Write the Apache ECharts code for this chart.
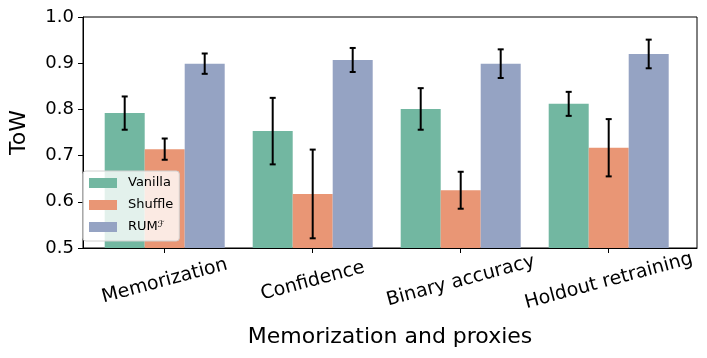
<!DOCTYPE html>
<html>
<head>
<meta charset="utf-8">
<script src="https://cdn.jsdelivr.net/npm/echarts@6/dist/echarts.min.js"></script>
<style>html,body{margin:0;padding:0;background:#fff;}#c{width:707px;height:358px;}</style>
</head>
<body>
<div id="c"></div>
<script>
const categories = ['Memorization', 'Confidence', 'Binary accuracy', 'Holdout retraining'];
const seriesNames = ['Vanilla', 'Shuffle', 'RUM'];
const vanilla = [0.792, 0.753, 0.801, 0.812];
const vanillaErr = [0.036, 0.072, 0.045, 0.026];
const shuffle = [0.714, 0.617, 0.625, 0.717];
const shuffleErr = [0.023, 0.096, 0.040, 0.062];
const rum = [0.899, 0.907, 0.899, 0.920];
const rumErr = [0.022, 0.026, 0.031, 0.031];
const yTicks = [0.5, 0.6, 0.7, 0.8, 0.9, 1.0];

const colors = ['#72b7a1', '#e99675', '#95a3c3'];
const FONT = 'DejaVu Sans';
const BAR_W = 40;

const values = [vanilla, shuffle, rum];
const errs = [vanillaErr, shuffleErr, rumErr];

const chart = echarts.init(document.getElementById('c'), null, {renderer: 'canvas'});

const series = [];
values.forEach((vals, s) => {
  series.push({
    name: seriesNames[s],
    type: 'bar',
    xAxisIndex: 0, yAxisIndex: 0,
    barWidth: BAR_W,
    barGap: '0%',
    itemStyle: {color: colors[s]},
    data: vals,
    z: 2
  });
});
values.forEach((vals, s) => {
  const offset = (s - 1) * BAR_W;
  series.push({
    type: 'custom',
    xAxisIndex: 0, yAxisIndex: 0,
    z: 5,
    silent: true,
    data: vals.map((v, i) => [i, v - errs[s][i], v + errs[s][i]]),
    encode: {x: 0, y: [1, 2]},
    renderItem: function (params, api) {
      const lo = api.coord([api.value(0), api.value(1)]);
      const hi = api.coord([api.value(0), api.value(2)]);
      const x = lo[0] + offset;
      const cap = 3;
      const style = {stroke: '#000', lineWidth: 2};
      return {
        type: 'group',
        children: [
          {type: 'line', shape: {x1: x, y1: lo[1], x2: x, y2: hi[1]}, style: style},
          {type: 'line', shape: {x1: x - cap, y1: lo[1], x2: x + cap, y2: lo[1]}, style: style},
          {type: 'line', shape: {x1: x - cap, y1: hi[1], x2: x + cap, y2: hi[1]}, style: style}
        ]
      };
    }
  });
});

chart.setOption({
  animation: false,
  textStyle: {fontFamily: FONT},
  grid: [
    {left: 90.7, right: 24.3, top: 17, bottom: 110, show: false},
    {left: 73, right: 10, top: 17, bottom: 110, show: true, borderColor: '#000', borderWidth: 1, backgroundColor: 'transparent', z: 0}
  ],
  xAxis: [
    {
      type: 'category', gridIndex: 0, data: categories,
      axisLine: {show: false},
      axisTick: {show: true, alignWithLabel: true, length: 5, lineStyle: {color: '#000', width: 1}},
      axisLabel: {
        rotate: 15, align: 'center', verticalAlign: 'middle', margin: 33,
        fontSize: 19, color: '#000', fontFamily: FONT, interval: 0
      },
      splitLine: {show: false}
    },
    {
      type: 'value', gridIndex: 1, min: 0, max: 1, z: 10,
      axisLine: {show: true, onZero: false, lineStyle: {color: '#000', width: 1}},
      axisTick: {show: false}, axisLabel: {show: false}, splitLine: {show: false},
      name: 'Memorization and proxies', nameLocation: 'middle', nameGap: 89,
      nameTextStyle: {fontSize: 22, color: '#000', fontFamily: FONT, verticalAlign: 'middle'}
    }
  ],
  yAxis: [
    {type: 'value', gridIndex: 0, min: 0.5, max: 1.0, show: false},
    {
      type: 'value', gridIndex: 1, min: yTicks[0], max: yTicks[yTicks.length - 1], interval: 0.1, z: 10,
      axisLine: {show: true, lineStyle: {color: '#000', width: 1}},
      axisTick: {show: true, length: 5, lineStyle: {color: '#000', width: 1}},
      axisLabel: {fontSize: 18, color: '#000', fontFamily: FONT, margin: 9, formatter: v => v.toFixed(1)},
      splitLine: {show: false},
      name: 'ToW', nameLocation: 'middle', nameGap: 53,
      nameTextStyle: {fontSize: 22, color: '#000', fontFamily: FONT}
    }
  ],
  legend: {
    orient: 'vertical',
    left: 83, top: 171,
    data: seriesNames,
    icon: 'rect',
    itemWidth: 28, itemHeight: 10,
    itemGap: 8,
    padding: [5, 6, 6, 6],
    backgroundColor: 'rgba(255,255,255,0.8)',
    borderColor: '#d0d0d0', borderWidth: 1, borderRadius: 3,
    textStyle: {
      fontSize: 13, color: '#000', fontFamily: FONT, lineHeight: 14, padding: [0, 0, 0, 6],
      rich: {
        s: {fontSize: 9, fontStyle: 'italic', verticalAlign: 'top', lineHeight: 9, padding: [0, 0, 6, 0], fontFamily: FONT, color: '#000'}
      }
    },
    formatter: name => name === 'RUM' ? 'RUM{s|ℱ}' : name,
    z: 20
  },
  series: series
});
</script>
</body>
</html>
